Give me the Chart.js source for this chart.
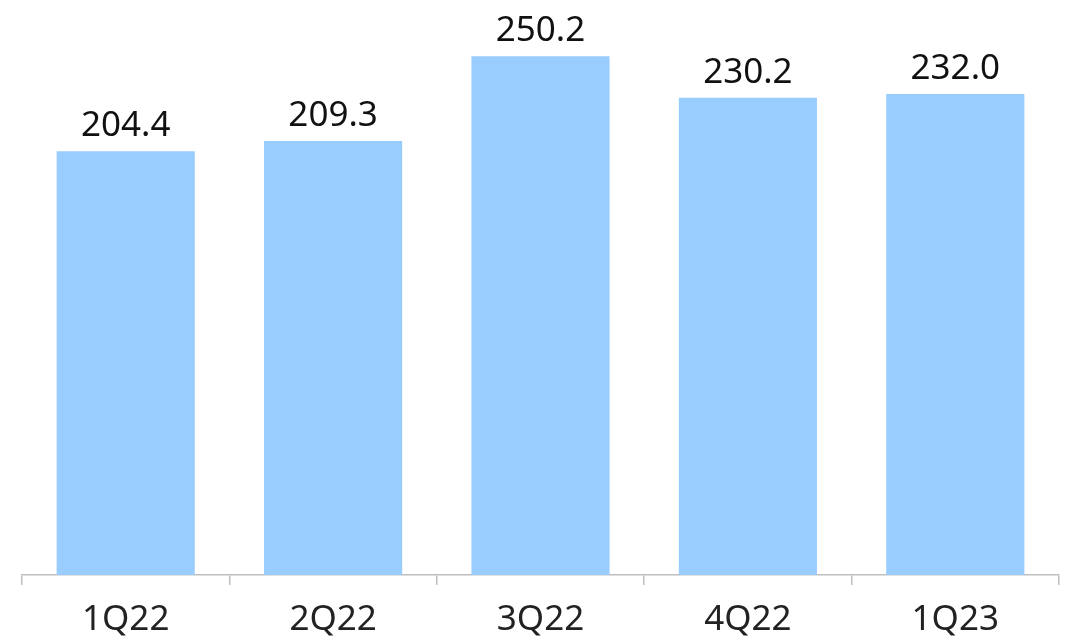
<!DOCTYPE html>
<html>
<head>
<meta charset="utf-8">
<script src="https://cdn.jsdelivr.net/npm/chart.js@4/dist/chart.umd.min.js"></script>
<style>
  html, body { margin: 0; padding: 0; background: #ffffff; }
  #wrap { width: 1072px; height: 638px; }
</style>
</head>
<body>
<div id="wrap"><canvas id="chart" width="1072" height="638"></canvas></div>
<script>
// Quarterly values
const quarters = ['1Q22', '2Q22', '3Q22', '4Q22', '1Q23'];
const values = [204.4, 209.3, 250.2, 230.2, 232.0];

const FONT = '"Noto Sans", "Open Sans", sans-serif';

// Writes each bar's value just above it
const valueLabels = {
  id: 'valueLabels',
  afterDatasetsDraw(chart) {
    const { ctx } = chart;
    const meta = chart.getDatasetMeta(0);
    ctx.save();
    ctx.font = '35px ' + FONT;
    ctx.fillStyle = '#111111';
    ctx.textAlign = 'center';
    ctx.textBaseline = 'alphabetic';
    meta.data.forEach((bar, i) => {
      ctx.fillText(values[i].toFixed(1), bar.x, bar.y - 15);
    });
    ctx.restore();
  }
};

new Chart(document.getElementById('chart'), {
  type: 'bar',
  data: {
    labels: quarters,
    datasets: [{
      data: values,
      backgroundColor: '#99ccff',
      borderWidth: 0,
      categoryPercentage: 1.0,
      barPercentage: 0.666
    }]
  },
  options: {
    responsive: false,
    animation: false,
    layout: { padding: { left: 22, right: 13, top: 0, bottom: 0 } },
    plugins: { legend: { display: false }, tooltip: { enabled: false } },
    scales: {
      x: {
        offset: true,
        afterFit(scale) { scale.height = 63; },
        border: { display: true, color: '#bfbfbf', width: 1.5 },
        grid: {
          offset: true,
          drawOnChartArea: false,
          drawTicks: true,
          tickLength: 10,
          color: '#bfbfbf',
          lineWidth: 1.5
        },
        ticks: {
          color: '#222222',
          padding: 14,
          font: { family: FONT, size: 35 }
        }
      },
      y: {
        display: false,
        min: 0,
        max: 277.3
      }
    }
  },
  plugins: [valueLabels]
});
</script>
</body>
</html>
